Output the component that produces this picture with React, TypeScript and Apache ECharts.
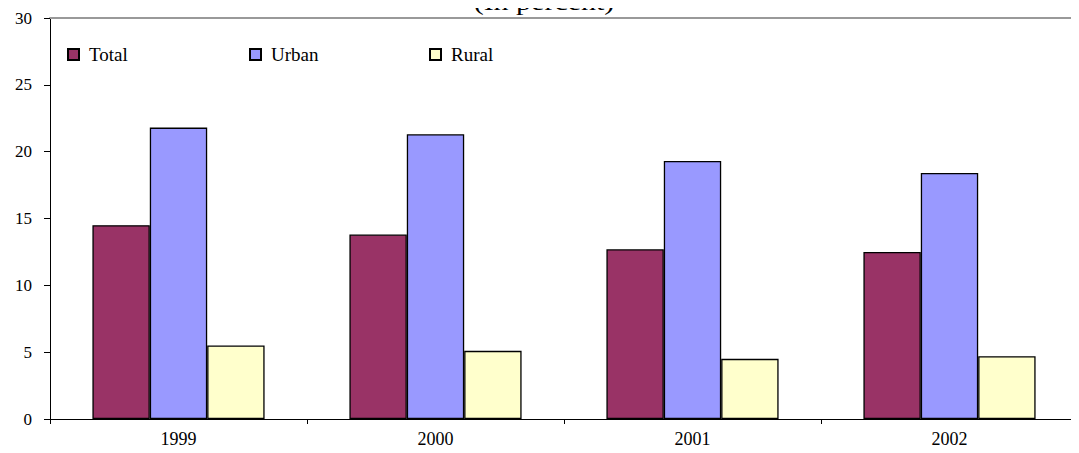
import React, { useEffect, useRef } from "react";
import * as echarts from "echarts";

const years = ["1999", "2000", "2001", "2002"];
const totalValues = [14.5, 13.8, 12.7, 12.5];
const urbanValues = [21.8, 21.3, 19.3, 18.4];
const ruralValues = [5.5, 5.1, 4.5, 4.7];
const seriesNames = ["Total", "Urban", "Rural"];
const seriesColors = ["#993366", "#9999FF", "#FFFFCC"];

const SERIF = "'Liberation Serif', 'Times New Roman', serif";
const legendLefts = [62, 244, 424];

export default function App() {
  const ref = useRef<HTMLDivElement>(null);

  useEffect(() => {
    if (!ref.current) return;
    const chart = echarts.init(ref.current, undefined, { renderer: "svg" });
    const valueSets = [totalValues, urbanValues, ruralValues];

    chart.setOption({
      animation: false,
      backgroundColor: "#ffffff",
      graphic: [
        {
          type: "text",
          x: 544,
          y: -10,
          scaleX: 1.25,
          style: {
            text: "(In percent)",
            fontFamily: SERIF,
            fontSize: 24,
            fill: "#000000",
            align: "center",
            verticalAlign: "top",
          },
        },
      ],
      // one legend block per series so each entry sits at its own column
      legend: seriesNames.map((name, i) => ({
        left: legendLefts[i],
        top: 40,
        itemWidth: 11,
        itemHeight: 11,
        itemGap: 0,
        icon: "rect",
        data: [name],
        textStyle: {
          fontFamily: SERIF,
          fontSize: 19,
          color: "#000000",
          padding: [0, 0, 0, 5],
        },
      })),
      grid: { left: 50, right: 1, top: 18, bottom: 34 },
      xAxis: [
        {
          type: "category",
          data: years,
          axisLine: { lineStyle: { color: "#000000", width: 1 } },
          axisTick: { show: true, length: 5, lineStyle: { color: "#000000" } },
          axisLabel: {
            fontFamily: SERIF,
            fontSize: 18,
            color: "#000000",
            margin: 11,
          },
        },
        {
          type: "category",
          data: years,
          position: "top",
          axisLine: { lineStyle: { color: "#999999", width: 2 } },
          axisTick: { show: false },
          axisLabel: { show: false },
        },
      ],
      yAxis: {
        type: "value",
        min: 0,
        max: 30,
        interval: 5,
        axisLine: { show: true, lineStyle: { color: "#000000", width: 1 } },
        axisTick: { show: true, length: 6, lineStyle: { color: "#000000" } },
        splitLine: { show: false },
        axisLabel: {
          fontFamily: SERIF,
          fontSize: 17,
          color: "#000000",
          margin: 18,
        },
      },
      series: seriesNames.map((name, i) => ({
        name,
        type: "bar",
        data: valueSets[i],
        barGap: "0%",
        barCategoryGap: "33%",
        itemStyle: {
          color: seriesColors[i],
          borderColor: "#000000",
          borderWidth: 1.3,
        },
      })),
    });

    return () => chart.dispose();
  }, []);

  return <div ref={ref} style={{ width: 1079, height: 453, margin: -8 }} />;
}
